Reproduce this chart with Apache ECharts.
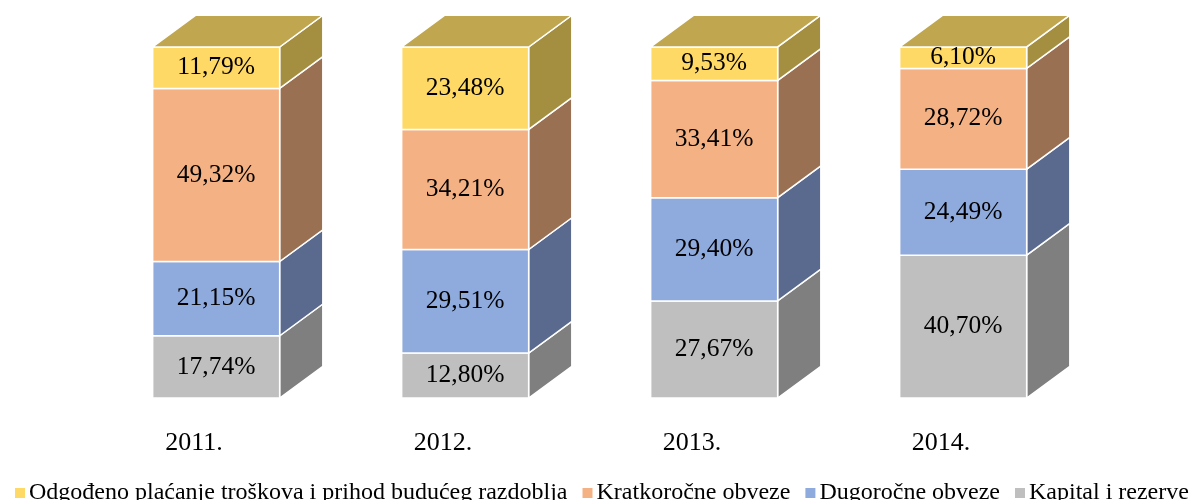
<!DOCTYPE html>
<html><head><meta charset="utf-8">
<script src="https://cdn.jsdelivr.net/npm/echarts@6/dist/echarts.min.js"></script>
<style>html,body{margin:0;padding:0;background:#fff}#c{width:1201px;height:500px}</style>
</head><body><div id="c"></div>
<script>
const years = ['2011.', '2012.', '2013.', '2014.'];
const kapital = [17.74, 12.80, 27.67, 40.70];
const dugorocne = [21.15, 29.51, 29.40, 24.49];
const kratkorocne = [49.32, 34.21, 33.41, 28.72];
const odgodeno = [11.79, 23.48, 9.53, 6.10];
const seriesNames = ['Kapital i rezerve', 'Dugoročne obveze', 'Kratkoročne obveze', 'Odgođeno plaćanje troškova i prihod budućeg razdoblja'];

const stackData = [kapital, dugorocne, kratkorocne, odgodeno];
const colors = [
  {front: '#BFBFBF', side: '#7F7F7F', top: '#A5A5A5'},
  {front: '#8FAADC', side: '#5A6A8E', top: '#7088B8'},
  {front: '#F4B183', side: '#9A7052', top: '#C7916B'},
  {front: '#FFD966', side: '#A48F41', top: '#BFA64F'}
];
const fmt = v => v.toFixed(2).replace('.', ',') + '%';

const series = stackData.map((arr, si) => {
  const data = arr.map((v, i) => {
    let base = 0;
    for (let k = 0; k < si; k++) base += stackData[k][i];
    return [i, v, base];
  });
  const isTop = si === stackData.length - 1;
  const c = colors[si];
  return {
    name: seriesNames[si],
    type: 'custom',
    itemStyle: {color: c.front},
    data: data,
    renderItem: function (params, api) {
      const cat = api.value(0), val = api.value(1), base = api.value(2);
      const pb = api.coord([cat, base]);
      const pt = api.coord([cat, base + val]);
      const band = api.size([1, 0])[0];
      const w = band * 0.51;
      const off = band * 0.089;
      const dx = w * 0.34, dy = w * 0.25;
      const x1 = pb[0] + off - w / 2, x2 = x1 + w;
      const yt = pt[1], yb = pb[1];
      const stroke = {stroke: '#fff', lineWidth: 1.5};
      const children = [
        {type: 'polygon', shape: {points: [[x2, yt], [x2 + dx, yt - dy], [x2 + dx, yb - dy], [x2, yb]]},
          style: Object.assign({fill: c.side}, stroke)},
        {type: 'rect', shape: {x: x1, y: yt, width: w, height: yb - yt},
          style: Object.assign({fill: c.front}, stroke)}
      ];
      if (isTop) {
        children.push({type: 'polygon', shape: {points: [[x1, yt], [x1 + dx, yt - dy], [x2 + dx, yt - dy], [x2, yt]]},
          style: Object.assign({fill: c.top}, stroke)});
      }
      children.push({type: 'text', style: {
        text: fmt(val), x: (x1 + x2) / 2, y: (yt + yb) / 2,
        align: 'center', verticalAlign: 'middle',
        fontFamily: 'Liberation Serif', fontSize: 25.5, fill: '#000'
      }});
      return {type: 'group', children: children};
    }
  };
});

const chart = echarts.init(document.getElementById('c'));
chart.setOption({
  animation: false,
  backgroundColor: '#fff',
  grid: {left: 69.5, right: 135.5, top: 47, bottom: 102},
  xAxis: {
    type: 'category', data: years,
    axisLine: {show: false}, axisTick: {show: false}, splitLine: {show: false},
    axisLabel: {fontFamily: 'Liberation Serif', fontSize: 26, color: '#000', margin: 32}
  },
  yAxis: {type: 'value', min: 0, max: 100, show: false},
  legend: {
    data: [seriesNames[3], seriesNames[2], seriesNames[1], seriesNames[0]],
    left: 10, top: 476, width: 1201,
    icon: 'rect', itemWidth: 10, itemHeight: 10, itemGap: 15,
    textStyle: {fontFamily: 'Liberation Serif', fontSize: 24, lineHeight: 24, color: '#000', padding: [0, 0, 0, -1]}
  },
  series: series
});
</script></body></html>
